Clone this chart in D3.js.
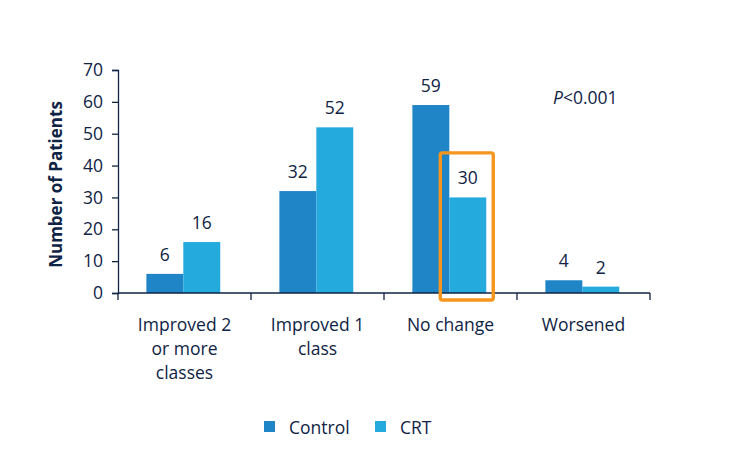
<!DOCTYPE html>
<html>
<head>
<meta charset="utf-8">
<script src="https://cdn.jsdelivr.net/npm/d3@7"></script>
<style>
  body { margin: 0; background: #fff; }
  svg text { font-family: "Open Sans", sans-serif; fill: #0f2345; }
</style>
</head>
<body>
<svg id="chart" width="731" height="474"></svg>
<script>
const categories = [["Improved 2", "or more", "classes"], ["Improved 1", "class"], ["No change"], ["Worsened"]];
const series = ["Control", "CRT"];
const controlValues = [6, 32, 59, 4];
const crtValues = [16, 52, 30, 2];
const yTicks = [0, 10, 20, 30, 40, 50, 60, 70];
const colors = { Control: "#1f85c6", CRT: "#25aade" };
const highlight = { category: 2, series: "CRT", top: 44 };

const svg = d3.select("#chart");
const navy = "#0f2345";
const font = "'Open Sans', sans-serif";
const fs = 17.5;
const margin = { left: 118, right: 81, top: 70, bottom: 181 };
const W = 731, H = 474;
const x0 = d3.scaleBand().domain(d3.range(categories.length)).range([margin.left, W - margin.right]).padding(0);
const x1 = d3.scaleBand().domain(series).range([0, x0.bandwidth()]).paddingInner(0).paddingOuter(0.8).align(0.48);
const y = d3.scaleLinear().domain([0, 70]).range([H - margin.bottom, margin.top]);

const data = categories.map((c, i) => ({ i, Control: controlValues[i], CRT: crtValues[i] }));

// bars
const g = svg.append("g");
data.forEach(d => {
  series.forEach(s => {
    g.append("rect")
      .attr("x", x0(d.i) + x1(s))
      .attr("y", y(d[s]))
      .attr("width", x1.bandwidth())
      .attr("height", y(0) - y(d[s]))
      .attr("fill", colors[s]);
    g.append("text")
      .attr("x", x0(d.i) + x1(s) + x1.bandwidth() / 2)
      .attr("y", y(d[s]) - 13)
      .attr("text-anchor", "middle")
      .attr("font-size", fs)
      .text(d[s]);
  });
});

// y axis
const yAxis = svg.append("g").attr("transform", `translate(${margin.left},0)`)
  .call(d3.axisLeft(y).tickValues(yTicks).tickSize(6).tickPadding(9));
yAxis.select(".domain").attr("stroke", navy).attr("stroke-width", 1.3);
yAxis.selectAll(".tick line").attr("stroke", navy).attr("stroke-width", 1.3);
yAxis.selectAll(".tick text").attr("font-size", fs).attr("fill", navy).style("font-family", font);

// x axis
const xAxisG = svg.append("g").attr("transform", `translate(0,${y(0)})`);
xAxisG.append("line").attr("x1", margin.left).attr("x2", W - margin.right).attr("y1", 0).attr("y2", 0)
  .attr("stroke", navy).attr("stroke-width", 1.3);
const tickPos = d3.range(categories.length + 1).map(i => margin.left + i * x0.bandwidth());
tickPos.forEach(p => {
  xAxisG.append("line").attr("x1", p).attr("x2", p).attr("y1", 0).attr("y2", 7)
    .attr("stroke", navy).attr("stroke-width", 1.3);
});
categories.forEach((lines, i) => {
  const t = svg.append("text")
    .attr("x", x0(i) + x0.bandwidth() / 2)
    .attr("y", y(0) + 38)
    .attr("text-anchor", "middle")
    .attr("font-size", fs);
  lines.forEach((l, k) => {
    t.append("tspan").attr("x", x0(i) + x0.bandwidth() / 2).attr("dy", k === 0 ? 0 : 24).text(l);
  });
});

// y label
svg.append("text")
  .attr("transform", `translate(62,${(y(0) + y(70)) / 2 + 3}) rotate(-90)`)
  .attr("text-anchor", "middle")
  .attr("font-size", 17)
  .attr("font-weight", "bold")
  .text("Number of Patients");

// P value
const p = svg.append("text").attr("x", 553).attr("y", 104).attr("font-size", fs);
p.append("tspan").attr("font-style", "italic").text("P");
p.append("tspan").text("<0.001");

// highlight box
const hx = x0(highlight.category) + x1(highlight.series);
svg.append("rect")
  .attr("x", hx - 9)
  .attr("y", y(highlight.top))
  .attr("width", x1.bandwidth() + 16)
  .attr("height", y(0) + 7 - y(highlight.top))
  .attr("rx", 2)
  .attr("fill", "none")
  .attr("stroke", "#f7961e")
  .attr("stroke-width", 3.4);

// legend
const legend = svg.append("g");
const legendX = [264, 375];
series.forEach((s, i) => {
  legend.append("rect").attr("x", legendX[i]).attr("y", 421).attr("width", 11).attr("height", 11).attr("fill", colors[s]);
  legend.append("text").attr("x", legendX[i] + 25).attr("y", 434).attr("font-size", fs).text(s);
});
</script>
</body>
</html>
